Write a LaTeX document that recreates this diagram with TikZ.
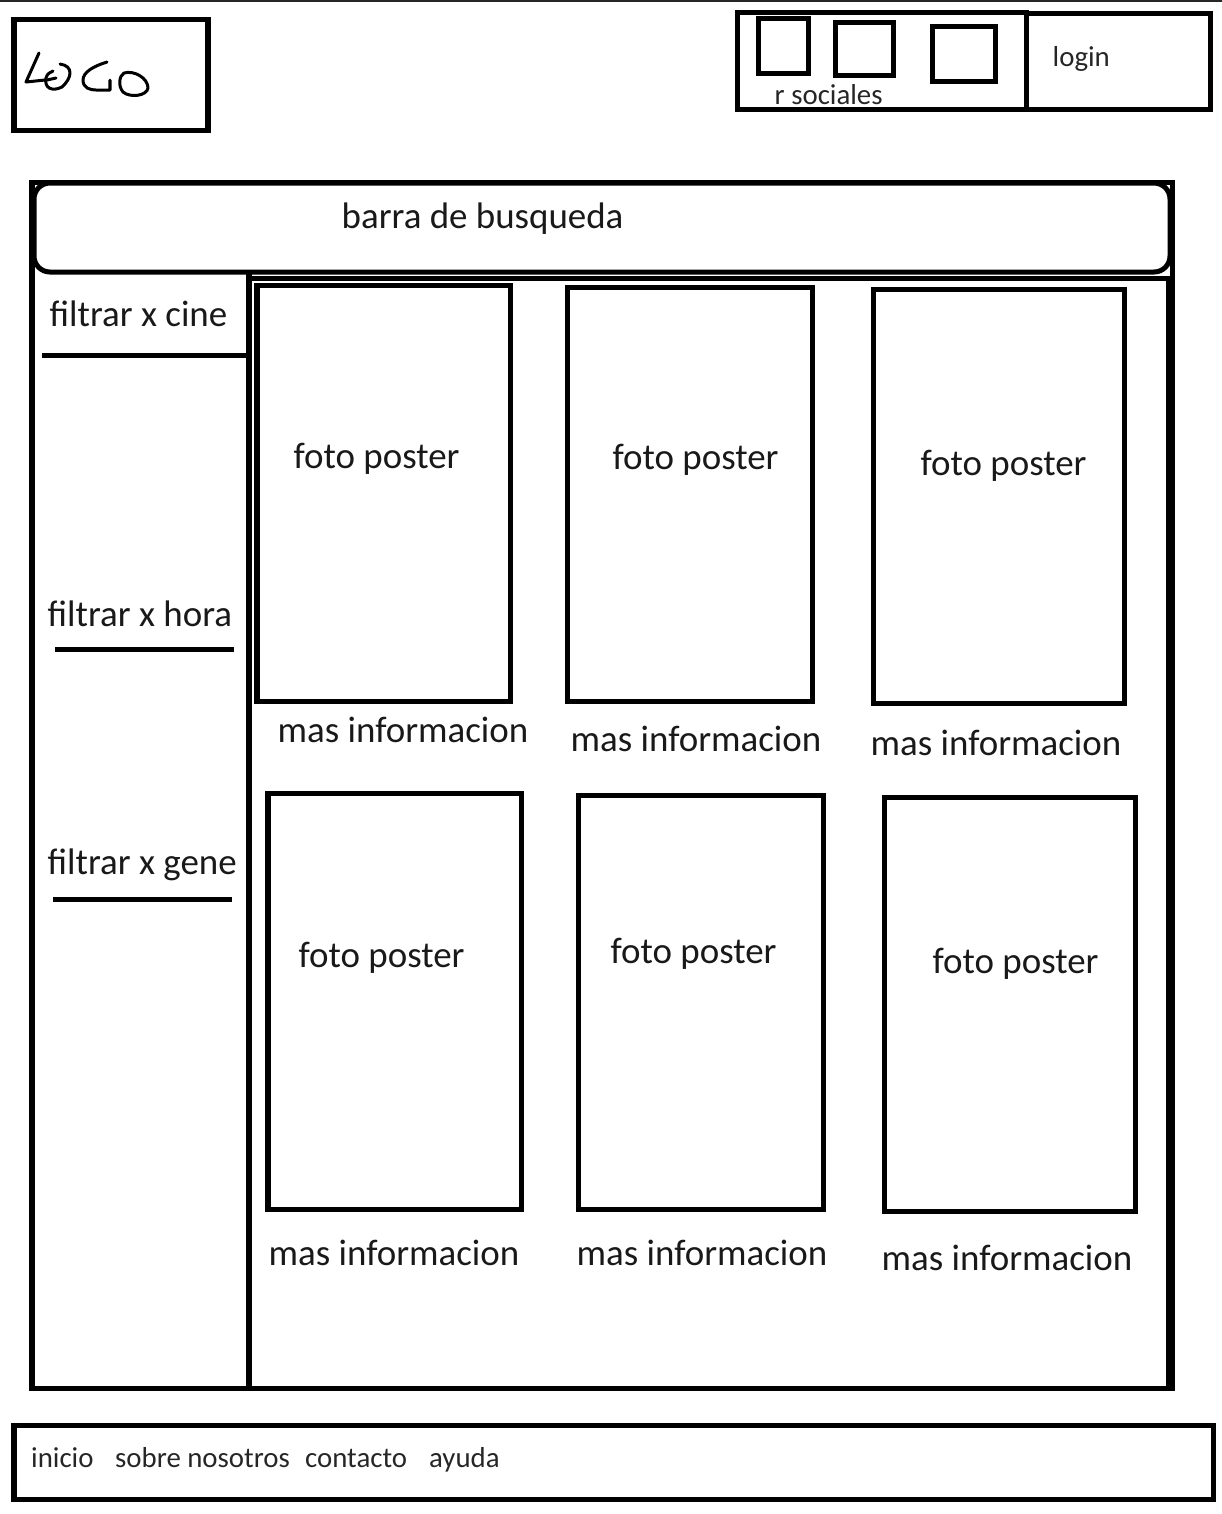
\documentclass[tikz,border=0pt]{standalone}
\usepackage{fontspec}
\setmainfont{Carlito}
\tikzset{
	box/.style={line width=0.05cm, color=black},
	pen/.style={line width=0.03cm, line cap=round, line join=round},
	big/.style={font=\fontsize{10.5pt}{12pt}\selectfont, anchor=base west, inner sep=0pt, text=black!90},
	small/.style={font=\fontsize{8.2pt}{10pt}\selectfont, anchor=base west, inner sep=0pt, text=black!85},
}
\begin{document}
\begin{tikzpicture}[x=0.01cm, y=-0.01cm]
		%%%%% START %%%%%
		\useasboundingbox (0, 0) rectangle (1222, 1514);
		
		\draw[line width=0.02cm, color=black!85] (0, 1) -- (1222, 1);
		
		% logo
		\draw[box] (14, 19) rectangle (208, 130);
		\draw[pen] (39, 53) -- (26, 82) -- (45, 80);
		\draw[pen] (60, 64) .. controls (74, 66) and (72, 78) .. (62, 87) .. controls (52, 92) and (44, 88) .. (46, 78) .. controls (47, 74) and (50, 72) .. (53, 71);
		\draw[pen] (47, 80) -- (56, 78);
		\draw[pen] (107, 62) .. controls (94, 66) and (83, 72) .. (83, 80) .. controls (83, 88) and (90, 90) .. (96, 90) -- (110, 90) -- (110, 80);
		\draw[pen] (124, 73) .. controls (134, 70) and (148, 78) .. (148, 88) .. controls (147, 96) and (130, 98) .. (123, 92) .. controls (118, 86) and (119, 76) .. (124, 73);
		
		% top right
		\draw[box] (737, 12) rectangle (1026, 109);
		\draw[box] (1026, 13) rectangle (1210, 109);
		\draw[box] (758, 18) rectangle (808, 73);
		\draw[box] (835, 22) rectangle (893, 75);
		\draw[box] (932, 26) rectangle (995, 81);
		\node[small] (redes) at (774, 104.5) {r sociales};
		\node[small] (login) at (1052, 66) {login};
		
		% main frame
		\draw[box] (32, 182) rectangle (1172, 1388);
		\draw[box, rounded corners=0.16cm] (34, 183) rectangle (1170, 272);
		\draw[box] (249, 278) rectangle (1168, 1388);
		\draw[box] (249, 272) -- (249, 278);
		\node[big] (barra) at (341, 228.5) {barra de busqueda};
		
		% filters
		\node[big] (cine) at (49, 326.5) {filtrar x cine};
		\draw[box] (42, 355) -- (246, 355);
		\node[big] (hora) at (47, 626.5) {filtrar x hora};
		\draw[box] (55, 649) -- (234, 649);
		\node[big] (gene) at (47, 874.5) {filtrar x gene};
		\draw[box] (53, 899) -- (232, 899);
		
		% posters
		\draw[box] (257, 285) rectangle (510, 701);
		\draw[box] (567, 287) rectangle (812, 701);
		\draw[box] (873, 289) rectangle (1124, 703);
		\draw[box] (268, 793) rectangle (521, 1209);
		\draw[box] (578, 795) rectangle (823, 1209);
		\draw[box] (884, 797) rectangle (1135, 1211);
		
		\node[big] (fotoa) at (293, 468.5) {foto poster};
		\node[big] (fotob) at (612, 469.5) {foto poster};
		\node[big] (fotoc) at (920, 475.5) {foto poster};
		\node[big] (fotod) at (298, 967.5) {foto poster};
		\node[big] (fotoe) at (610, 963.5) {foto poster};
		\node[big] (fotof) at (932, 973.5) {foto poster};
		
		\node[big] (masa) at (277, 742.5) {mas informacion};
		\node[big] (masb) at (570, 751.5) {mas informacion};
		\node[big] (masc) at (870, 755.5) {mas informacion};
		\node[big] (masd) at (268, 1265.5) {mas informacion};
		\node[big] (mase) at (576, 1265.5) {mas informacion};
		\node[big] (masf) at (881, 1270.5) {mas informacion};
		
		% footer
		\draw[box] (14, 1425) rectangle (1213, 1499);
		\node[small] (inicio) at (30.5, 1467) {inicio};
		\node[small] (sobre) at (114.5, 1467) {sobre nosotros};
		\node[small] (contacto) at (304.5, 1467) {contacto};
		\node[small] (ayuda) at (428.5, 1467) {ayuda};
		
		%%%%% END %%%%%
	\end{tikzpicture}
\end{document}
